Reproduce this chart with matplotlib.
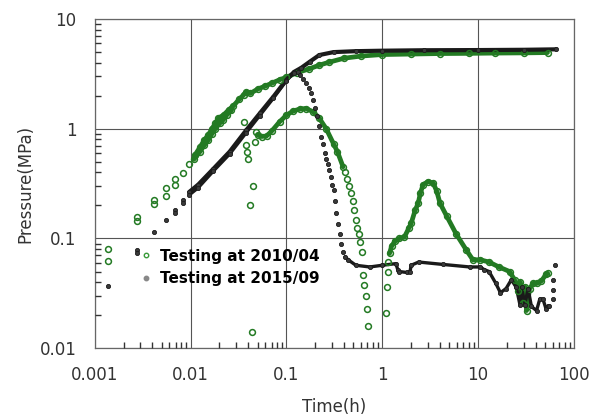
import numpy as np
import matplotlib.pyplot as plt
from matplotlib.lines import Line2D
from matplotlib.ticker import LogLocator, NullFormatter, FuncFormatter

# ---- Testing at 2010/04 (green) ----
# pressure
g_p_t = [0.00139, 0.00278, 0.00417, 0.00556, 0.00694, 0.00833, 0.0097, 0.0111, 0.0125,
         0.0139, 0.0153, 0.0167, 0.0181, 0.0195, 0.0222, 0.025, 0.028, 0.032, 0.036,
         0.038, 0.042, 0.05, 0.06, 0.07, 0.085, 0.1, 0.13, 0.17, 0.22, 0.28, 0.4, 0.6,
         1.0, 2.0, 4.0, 8.0, 15.0, 30.0, 53.0]
g_p = [0.080, 0.156, 0.224, 0.286, 0.346, 0.397, 0.473, 0.576, 0.676,
       0.79, 0.877, 1.0, 1.12, 1.25, 1.34, 1.49, 1.62, 1.85, 2.05,
       2.17, 2.1, 2.3, 2.45, 2.6, 2.8, 2.95, 3.25, 3.5, 3.8, 4.05, 4.4, 4.6,
       4.75, 4.8, 4.85, 4.87, 4.9, 4.92, 4.95]
# derivative
g_d_t = [0.00139, 0.00278, 0.00417, 0.00556, 0.00694, 0.0108, 0.0125, 0.0139, 0.0153,
         0.0167, 0.0181, 0.0201, 0.0218, 0.0239, 0.0267,
         0.0361, 0.0375, 0.0385, 0.0395, 0.0415, 0.0443, 0.0438, 0.047, 0.0486,
         0.05, 0.055, 0.062, 0.07, 0.085, 0.1, 0.117, 0.14, 0.16, 0.19, 0.22, 0.26,
         0.31, 0.34, 0.39, 0.41, 0.43, 0.45, 0.47, 0.49, 0.51, 0.53, 0.55, 0.57,
         0.59, 0.61, 0.627, 0.647, 0.67, 0.69, 0.71,
         1.09, 1.12, 1.14, 1.16, 1.19, 1.25, 1.35, 1.5, 1.7, 1.9, 2.0, 2.2, 2.37,
         2.5, 2.67, 3.0, 3.4, 3.7, 4.0, 4.7, 5.9, 7.5, 8.8, 10.5, 13.0, 16.5,
         21.3, 24.0, 26.0, 27.5, 29.5, 31.0, 32.0, 34.5, 37.5, 41.0, 45.8, 51.0, 53.0]
g_d = [0.062, 0.145, 0.206, 0.245, 0.307, 0.526, 0.617, 0.71, 0.79,
       0.90, 1.0, 1.12, 1.2, 1.34, 1.48,
       1.16, 0.71, 0.61, 0.53, 0.20, 0.30, 0.014, 0.75, 0.94,
       0.88, 0.85, 0.86, 0.95, 1.16, 1.33, 1.45, 1.52, 1.53, 1.43, 1.25, 1.0,
       0.73, 0.62, 0.45, 0.40, 0.35, 0.30, 0.26, 0.22, 0.18, 0.146, 0.125, 0.11,
       0.092, 0.075, 0.046, 0.038, 0.030, 0.023, 0.016,
       0.021, 0.036, 0.050, 0.061, 0.073, 0.085, 0.094, 0.10, 0.103, 0.125, 0.137, 0.18, 0.21,
       0.26, 0.31, 0.33, 0.32, 0.27, 0.21, 0.16, 0.11, 0.079, 0.064, 0.064, 0.061, 0.055,
       0.050, 0.042, 0.033, 0.040, 0.026, 0.036, 0.022, 0.035, 0.039, 0.039, 0.041, 0.047, 0.048]

# ---- Testing at 2015/09 (black) ----
k_p_t = [0.00139, 0.00278, 0.00417, 0.00556, 0.00694, 0.00833, 0.0097, 0.012, 0.0172,
         0.0256, 0.038, 0.0526, 0.073, 0.1, 0.12, 0.143, 0.176, 0.22, 0.31, 0.53,
         1.0, 2.7, 10.0, 30.0, 65.0]
k_p = [0.037, 0.078, 0.115, 0.147, 0.18, 0.226, 0.266, 0.31, 0.43,
       0.62, 0.97, 1.38, 1.96, 2.8, 3.3, 3.6, 4.1, 4.7, 5.0, 5.1,
       5.15, 5.2, 5.22, 5.25, 5.3]
k_d_t = [0.00278, 0.00694, 0.00833, 0.0097, 0.012, 0.0172, 0.0256, 0.038, 0.0526,
         0.073, 0.1, 0.12, 0.133,
         0.14, 0.15, 0.16, 0.17, 0.18, 0.19, 0.2, 0.21, 0.22, 0.23, 0.24, 0.25, 0.26,
         0.27, 0.28, 0.29, 0.30, 0.31, 0.32, 0.33, 0.345, 0.36, 0.375, 0.39,
         0.41, 0.44, 0.53, 0.74, 1.0, 1.39, 1.45, 1.5, 1.8, 1.95, 2.0, 2.4, 4.3, 8.2,
         10.5, 11.6, 13.0, 15.3, 17.1, 19.6, 22.2, 25.0, 27.3, 28.4, 30.8, 33.2, 36.0,
         40.7, 44.0, 47.5, 51.0, 53.0, 55.5,
         61.0, 61.0, 61.0, 63.0]
k_d = [0.074, 0.17, 0.21, 0.25, 0.29, 0.41, 0.59, 0.92, 1.32,
       1.9, 2.75, 3.25, 3.3,
       3.1, 2.85, 2.6, 2.35, 2.1, 1.83, 1.55, 1.3, 1.05, 0.85, 0.72, 0.6, 0.53,
       0.48, 0.42, 0.36, 0.31, 0.275, 0.22, 0.17, 0.135, 0.11, 0.09, 0.075,
       0.068, 0.064, 0.057, 0.055, 0.057, 0.059, 0.052, 0.050, 0.049, 0.050, 0.057, 0.061, 0.058, 0.055,
       0.055, 0.052, 0.050, 0.039, 0.032, 0.035, 0.042, 0.036, 0.025, 0.036, 0.025, 0.035, 0.024,
       0.022, 0.028, 0.028, 0.023, 0.024, 0.024,
       0.028, 0.034, 0.042, 0.057]

GREEN = '#237a23'
DARK = '#1a1a1a'


def draw(ax, t, v, dense, color, marker_kw, lw):
    t = np.asarray(t)
    v = np.asarray(v)
    for lo, hi in dense:
        m = (t >= lo) & (t <= hi)
        ax.plot(t[m], v[m], '-', color=color, lw=lw, solid_capstyle='round',
                solid_joinstyle='round', zorder=3)
    ax.plot(t, v, ls='none', zorder=4, **marker_kw)


green_mk = dict(marker='o', ms=4.2, mfc='none', mec=GREEN, mew=1.1)
black_mk = dict(marker='o', ms=3.0, mfc='#3a3a3a', mec=DARK, mew=0.6)

fig = plt.figure(figsize=(5.96, 4.15), dpi=100)
ax = fig.add_axes([0.159, 0.161, 0.804, 0.793])

draw(ax, g_p_t, g_p, [(0.0105, 60)], GREEN, green_mk, 3.4)
draw(ax, g_d_t, g_d, [(0.0105, 0.028), (0.049, 0.40), (1.19, 60)], GREEN, green_mk, 3.4)
draw(ax, k_p_t, k_p, [(0.0095, 70)], DARK, black_mk, 3.0)
draw(ax, k_d_t, k_d, [(0.0095, 0.135), (0.41, 56)], DARK, black_mk, 2.4)

ax.set_xscale('log')
ax.set_yscale('log')
ax.set_xlim(0.001, 100)
ax.set_ylim(0.01, 10)

ax.grid(True, which='major', color='#555555', lw=0.8)
for s in ax.spines.values():
    s.set_color('#666666')
    s.set_linewidth(0.9)

for axis in (ax.xaxis, ax.yaxis):
    axis.set_major_locator(LogLocator(base=10, numticks=20))
    axis.set_major_formatter(FuncFormatter(lambda v, p: f'{v:g}'))
    axis.set_minor_formatter(NullFormatter())

ax.tick_params(axis='both', which='major', length=0, pad=13, labelsize=12,
               labelcolor='#333333')
ax.tick_params(axis='both', which='minor', length=0)

# inward minor ticks (2..9 in each decade) on the bottom and left edges only,
# drawn as tick-shaped markers sitting on the spines
subs = np.arange(2, 10)
x_minor = np.concatenate([subs * 10.0 ** e for e in range(-3, 2)])
y_minor = np.concatenate([subs * 10.0 ** e for e in range(-2, 1)])
ax.plot(x_minor, np.zeros(len(x_minor)), ls='none', marker=2, ms=4.5, mew=1.0,
        color='#333333', transform=ax.get_xaxis_transform(), clip_on=False, zorder=6)
ax.plot(np.zeros(len(y_minor)), y_minor, ls='none', marker=1, ms=4.5, mew=1.0,
        color='#333333', transform=ax.get_yaxis_transform(), clip_on=False, zorder=6)

ax.set_xlabel('Time(h)', fontsize=12, color='#333333', labelpad=10)
ax.set_ylabel('Pressure(MPa)', fontsize=12, color='#333333', labelpad=4)

handles = [Line2D([], [], ls='none', marker='o', ms=3.2, mfc='none', mec='#3a9a3a', mew=1.0),
           Line2D([], [], ls='none', marker='o', ms=3.2, mfc='#888888', mec='#888888')]
ax.legend(handles, ['Testing at 2010/04', 'Testing at 2015/09'], loc='center left',
          bbox_to_anchor=(0.065, 0.245), frameon=False, handlelength=0.8,
          handletextpad=0.5, labelspacing=0.5, prop=dict(weight='bold', size=11))

fig.savefig('out.png', dpi=100)
